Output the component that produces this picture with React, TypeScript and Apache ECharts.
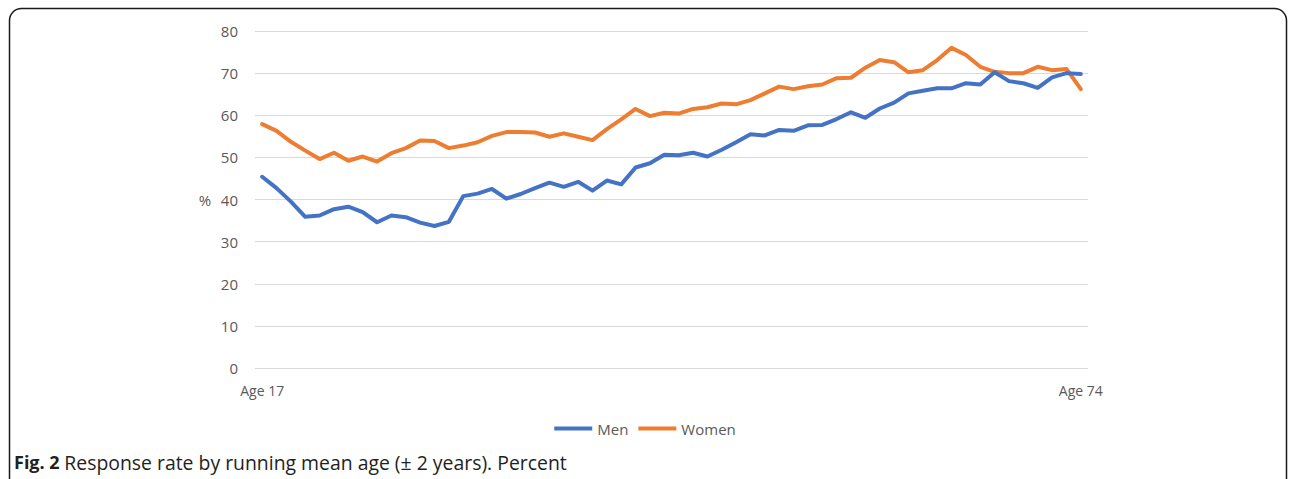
import React, { useEffect, useRef } from "react";
import * as echarts from "echarts";

const ages = [
  17, 18, 19, 20, 21, 22, 23, 24, 25, 26, 27, 28, 29, 30, 31, 32, 33, 34, 35, 36,
  37, 38, 39, 40, 41, 42, 43, 44, 45, 46, 47, 48, 49, 50, 51, 52, 53, 54, 55, 56,
  57, 58, 59, 60, 61, 62, 63, 64, 65, 66, 67, 68, 69, 70, 71, 72, 73, 74,
];

const men = [
  45.4, 42.7, 39.5, 35.9, 36.2, 37.7, 38.3, 37.0, 34.6, 36.2,
  35.8, 34.5, 33.7, 34.7, 40.8, 41.4, 42.5, 40.2, 41.3, 42.7,
  44.0, 43.0, 44.2, 42.1, 44.5, 43.6, 47.6, 48.6, 50.6, 50.5,
  51.1, 50.2, 51.8, 53.6, 55.5, 55.2, 56.5, 56.3, 57.6, 57.7,
  59.1, 60.7, 59.4, 61.6, 63.0, 65.2, 65.8, 66.4, 66.4, 67.6,
  67.3, 70.2, 68.1, 67.6, 66.5, 69.0, 70.0, 69.8,
];

const women = [
  57.9, 56.3, 53.7, 51.6, 49.6, 51.1, 49.2, 50.2, 49.0, 51.0,
  52.2, 54.0, 53.9, 52.2, 52.8, 53.6, 55.1, 56.0, 56.0, 55.9,
  54.9, 55.7, 54.9, 54.1, 56.7, 59.0, 61.5, 59.8, 60.6, 60.4,
  61.5, 61.9, 62.8, 62.6, 63.6, 65.2, 66.8, 66.2, 66.9, 67.3,
  68.8, 68.9, 71.3, 73.1, 72.6, 70.2, 70.7, 73.1, 76.0, 74.3,
  71.5, 70.3, 70.0, 70.0, 71.5, 70.7, 71.0, 66.2,
];

const seriesNames = ["Men", "Women"];
const yTicks = { min: 0, max: 80, interval: 10 };

export default function App() {
  const ref = useRef<HTMLDivElement>(null);

  useEffect(() => {
    document.body.style.margin = "0";
    if (!ref.current) return;
    const chart = echarts.init(ref.current, null, { renderer: "svg" });
    const font = "'Open Sans', sans-serif";
    const gray = "#595959";
    const last = ages.length - 1;
    chart.setOption({
      animation: false,
      backgroundColor: "#fff",
      grid: { left: 255, right: 202, top: 31, bottom: 111, containLabel: false },
      xAxis: {
        type: "category",
        data: ages,
        boundaryGap: true,
        axisLine: { show: false },
        axisTick: { show: false },
        axisLabel: {
          interval: 0,
          margin: 15,
          color: gray,
          fontSize: 14,
          fontFamily: font,
          formatter: (v: string, i: number) => (i === 0 || i === last ? "Age " + v : ""),
        },
        splitLine: { show: false },
      },
      yAxis: {
        type: "value",
        min: yTicks.min,
        max: yTicks.max,
        interval: yTicks.interval,
        axisLine: { show: false },
        axisTick: { show: false },
        axisLabel: { color: gray, fontSize: 15, fontFamily: font, margin: 17 },
        splitLine: { lineStyle: { color: "#d9d9d9", width: 1 } },
      },
      legend: {
        data: seriesNames,
        bottom: 38,
        left: "center",
        itemWidth: 38,
        itemHeight: 4,
        itemGap: 10,
        textStyle: { color: gray, fontSize: 15, fontFamily: font },
        icon: "rect",
      },
      series: [
        {
          name: seriesNames[0],
          type: "line",
          data: men,
          showSymbol: false,
          symbol: "none",
          lineStyle: { color: "#4472C4", width: 4, join: "round", cap: "round" },
          itemStyle: { color: "#4472C4" },
          z: 3,
        },
        {
          name: seriesNames[1],
          type: "line",
          data: women,
          showSymbol: false,
          symbol: "none",
          lineStyle: { color: "#ED7D31", width: 4, join: "round", cap: "round" },
          itemStyle: { color: "#ED7D31" },
          z: 2,
        },
      ],
      graphic: [
        {
          type: "rect",
          shape: { x: 9.5, y: 8.5, width: 1277, height: 520, r: 12 },
          style: { fill: "none", stroke: "#1a1a1a", lineWidth: 1.5 },
          silent: true,
        },
        {
          type: "text",
          x: 205,
          y: 200,
          style: {
            text: "%",
            fill: gray,
            fontSize: 15,
            fontFamily: font,
            align: "center",
            verticalAlign: "middle",
          },
        },
        {
          type: "text",
          x: 14,
          y: 462,
          style: {
            text: "{b|Fig. 2} {r|Response rate by running mean age (± 2 years). Percent}",
            fill: "#231f20",
            fontSize: 18,
            fontFamily: font,
            verticalAlign: "middle",
            rich: {
              b: { fontWeight: "bold", fontSize: 18, fontFamily: font, fill: "#231f20" },
              r: { fontSize: 19.4, fontFamily: font, fill: "#231f20" },
            },
          },
        },
      ],
    });
    return () => chart.dispose();
  }, []);

  return <div ref={ref} style={{ width: 1290, height: 479 }} />;
}
